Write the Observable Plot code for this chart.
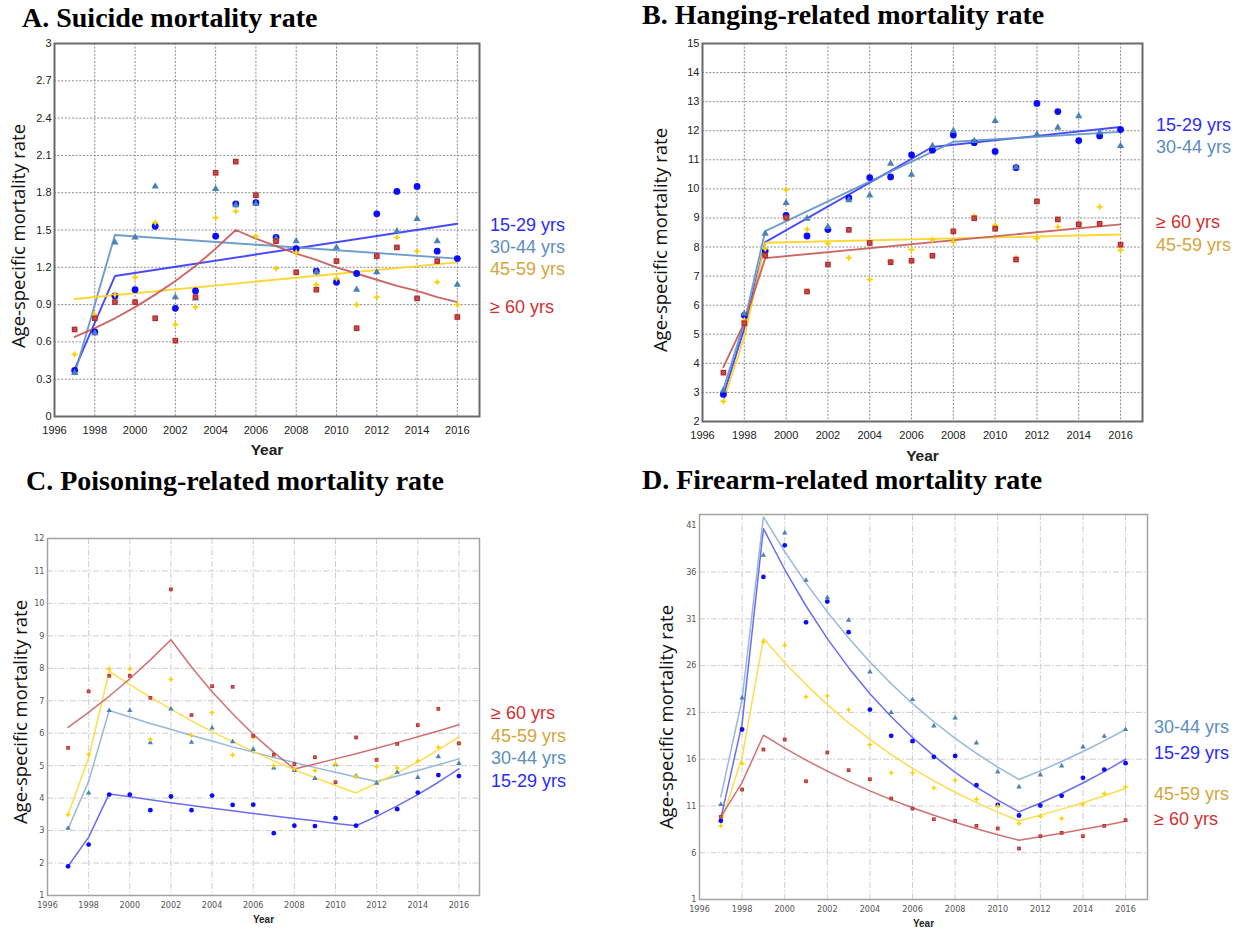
<!DOCTYPE html>
<html>
<head>
<meta charset="utf-8">
<script src="https://cdn.jsdelivr.net/npm/d3@7"></script>
<script src="https://cdn.jsdelivr.net/npm/@observablehq/plot@0.6"></script>
<style>
  body { margin: 0; background: #fff; }
  #page { position: relative; width: 1243px; height: 931px; overflow: hidden; background: #fff; }
  #page svg { position: absolute; background: transparent !important; }
  .title { position: absolute; font-family: "Liberation Serif", "Times New Roman", serif; font-weight: bold;
           font-size: 28px; line-height: 28px; white-space: nowrap; color: #000; }
  .ytitle { position: absolute; font-family: "Open Sans", sans-serif; font-size: 18.5px; line-height: 1;
            white-space: nowrap; color: #111; transform: translate(-50%, -50%) rotate(-90deg); }
  .legend { position: absolute; font-family: "Liberation Sans", Arial, sans-serif; font-size: 18px; line-height: 1;
            white-space: nowrap; transform: translateY(-50%); }
</style>
</head>
<body>
<div id="page"></div>
<script>
// ---------------------------------------------------------------------------
// Years, age groups and axis ticks
// ---------------------------------------------------------------------------
const years = [1997, 1998, 1999, 2000, 2001, 2002, 2003, 2004, 2005, 2006,
               2007, 2008, 2009, 2010, 2011, 2012, 2013, 2014, 2015, 2016];
const yearTicks = [1996, 1998, 2000, 2002, 2004, 2006, 2008, 2010, 2012, 2014, 2016];
const ageGroups = ["15-29 yrs", "30-44 yrs", "45-59 yrs", "≥ 60 yrs"];

const suicideTicks = [0, 0.3, 0.6, 0.9, 1.2, 1.5, 1.8, 2.1, 2.4, 2.7, 3];
const hangingTicks = [2, 3, 4, 5, 6, 7, 8, 9, 10, 11, 12, 13, 14, 15];
const poisoningTicks = [1, 2, 3, 4, 5, 6, 7, 8, 9, 10, 11, 12];
const firearmTicks = [1, 6, 11, 16, 21, 26, 31, 36, 41];

// ---------------------------------------------------------------------------
// A. Suicide mortality rate (observed, 1997-2016)
// ---------------------------------------------------------------------------
const suicide_15_29 = [0.37, 0.68, 0.97, 1.02, 1.53, 0.87, 1.01, 1.45, 1.71, 1.72, 1.44, 1.35, 1.17, 1.08, 1.15, 1.63, 1.81, 1.85, 1.33, 1.27];
const suicide_30_44 = [0.35, 0.67, 1.40, 1.44, 1.85, 0.96, 0.95, 1.83, 1.70, 1.71, 1.43, 1.41, 1.16, 1.36, 1.02, 1.16, 1.49, 1.59, 1.41, 1.06];
const suicide_45_59 = [0.50, 0.82, 0.98, 1.12, 1.56, 0.74, 0.88, 1.60, 1.65, 1.45, 1.19, 1.32, 1.06, 1.11, 0.90, 0.96, 1.44, 1.33, 1.08, 0.90];
const suicide_60plus = [0.70, 0.79, 0.92, 0.92, 0.79, 0.61, 0.96, 1.96, 2.05, 1.78, 1.41, 1.16, 1.02, 1.25, 0.71, 1.29, 1.36, 0.95, 1.25, 0.80];
// joinpoint trends as [year, modelled rate]
const suicideTrend_15_29 = [[1997, 0.38], [1999, 1.13], [2016, 1.55]];
const suicideTrend_30_44 = [[1997, 0.34], [1999, 1.46], [2016, 1.27]];
const suicideTrend_45_59 = [[1997, 0.945], [2016, 1.24]];
const suicideTrend_60plus = [[1997, 0.64], [1998, 0.71], [1999, 0.79], [2000, 0.88], [2001, 0.98], [2002, 1.09], [2003, 1.21],
  [2004, 1.35], [2005, 1.50], [2006, 1.43], [2007, 1.37], [2008, 1.31], [2009, 1.26], [2010, 1.20], [2011, 1.15],
  [2012, 1.10], [2013, 1.05], [2014, 1.01], [2015, 0.96], [2016, 0.92]];

// ---------------------------------------------------------------------------
// B. Hanging-related mortality rate
// ---------------------------------------------------------------------------
const hanging_15_29 = [2.93, 5.65, 7.86, 9.09, 8.38, 8.60, 9.69, 10.39, 10.41, 11.17, 11.33, 11.85, 11.59, 11.29, 10.73, 12.94, 12.66, 11.66, 11.82, 12.04];
const hanging_30_44 = [3.07, 5.71, 8.46, 9.52, 8.98, 8.69, 9.61, 9.78, 10.87, 10.49, 11.48, 11.99, 11.65, 12.34, 10.75, 11.87, 12.11, 12.50, 11.94, 11.48];
const hanging_45_59 = [2.69, 5.48, 7.94, 9.97, 8.61, 8.12, 7.63, 6.88, 7.50, 7.91, 8.25, 8.17, 9.06, 8.75, 7.63, 8.29, 8.69, 8.80, 9.38, 7.89];
const hanging_60plus = [3.68, 5.38, 7.71, 9.01, 6.47, 7.40, 8.59, 8.14, 7.48, 7.53, 7.70, 8.54, 8.99, 8.63, 7.57, 9.57, 8.95, 8.78, 8.80, 8.08];
const hangingTrend_15_29 = [[1997, 2.90], [1998, 5.2], [1999, 8.17], [2007, 11.44], [2016, 12.13]];
const hangingTrend_30_44 = [[1997, 3.12], [1998, 5.4], [1999, 8.55], [2008, 11.62], [2016, 11.96]];
const hangingTrend_45_59 = [[1997, 2.72], [1998, 4.9], [1999, 8.15], [2016, 8.43]];
const hangingTrend_60plus = [[1997, 3.87], [1998, 5.4], [1999, 7.62], [2016, 8.78]];

// ---------------------------------------------------------------------------
// C. Poisoning-related mortality rate
// ---------------------------------------------------------------------------
const poisoning_15_29 = [1.90, 2.57, 4.11, 4.11, 3.63, 4.05, 3.63, 4.08, 3.79, 3.80, 2.92, 3.15, 3.14, 3.38, 3.15, 3.57, 3.66, 4.17, 4.71, 4.68];
const poisoning_30_44 = [3.07, 4.16, 6.70, 6.70, 5.71, 6.75, 5.72, 6.16, 5.74, 5.50, 4.93, 4.85, 4.61, 5.03, 4.68, 4.46, 4.80, 4.64, 5.28, 5.07];
const poisoning_45_59 = [3.49, 5.34, 7.98, 7.98, 5.81, 7.66, 5.93, 6.64, 5.33, 5.87, 5.00, 4.90, 4.85, 5.05, 4.66, 4.97, 4.93, 5.14, 5.57, 5.69];
const poisoning_60plus = [5.55, 7.29, 7.77, 7.77, 7.09, 10.43, 6.56, 7.45, 7.43, 5.92, 5.34, 5.05, 5.26, 4.49, 5.87, 5.18, 5.67, 6.25, 6.75, 5.69];
// modelled rates for each year
const poisoningTrend_15_29 = [1.90, 2.80, 4.13, 4.04, 3.95, 3.86, 3.77, 3.69, 3.61, 3.53, 3.45, 3.37, 3.30, 3.22, 3.15, 3.44, 3.76, 4.11, 4.49, 4.90];
const poisoningTrend_30_44 = [3.05, 4.52, 6.70, 6.50, 6.30, 6.12, 5.93, 5.76, 5.58, 5.42, 5.25, 5.10, 4.94, 4.80, 4.65, 4.51, 4.68, 4.85, 5.03, 5.21];
const poisoningTrend_45_59 = [3.49, 5.25, 7.91, 7.50, 7.11, 6.74, 6.38, 6.05, 5.74, 5.44, 5.15, 4.88, 4.63, 4.39, 4.16, 4.46, 4.78, 5.12, 5.49, 5.89];
const poisoningTrend_60plus = [6.18, 6.64, 7.14, 7.68, 8.26, 8.88, 8.04, 7.28, 6.60, 5.97, 5.41, 4.90, 5.05, 5.21, 5.37, 5.54, 5.71, 5.89, 6.07, 6.26];

// ---------------------------------------------------------------------------
// D. Firearm-related mortality rate
// ---------------------------------------------------------------------------
const firearm_15_29 = [9.41, 19.17, 35.48, 38.86, 30.63, 32.84, 29.57, 21.30, 18.49, 17.92, 16.25, 16.35, 13.22, 11.12, 9.98, 11.04, 12.08, 14.00, 14.89, 15.57];
const firearm_30_44 = [11.15, 22.55, 37.79, 40.18, 35.12, 33.27, 30.85, 25.33, 20.98, 22.37, 19.56, 20.41, 17.74, 14.64, 13.04, 14.32, 15.28, 17.31, 18.45, 19.17];
const firearm_45_59 = [8.87, 15.53, 28.53, 28.18, 22.66, 22.76, 21.30, 17.56, 14.54, 14.54, 12.93, 13.75, 11.72, 10.97, 9.12, 9.90, 9.66, 11.19, 12.33, 13.04];
const firearm_60plus = [9.83, 12.75, 17.03, 18.10, 13.64, 16.71, 14.82, 13.86, 11.79, 10.72, 9.58, 9.41, 8.87, 8.59, 6.45, 7.77, 8.12, 7.77, 8.87, 9.48];
const firearmTrend_15_29 = [9.66, 19.8, 40.64, 36.27, 32.37, 28.88, 25.78, 23.00, 20.53, 18.32, 16.35, 14.59, 13.02, 11.62, 10.37, 11.31, 12.33, 13.45, 14.66, 15.99];
const firearmTrend_30_44 = [11.97, 22.4, 41.89, 38.19, 34.82, 31.74, 28.94, 26.39, 24.06, 21.93, 20.00, 18.23, 16.62, 15.15, 13.82, 14.75, 15.75, 16.82, 17.95, 19.17];
const firearmTrend_45_59 = [9.12, 16.2, 28.89, 26.31, 23.97, 21.83, 19.88, 18.11, 16.49, 15.02, 13.68, 12.46, 11.35, 10.34, 9.41, 10.02, 10.66, 11.35, 12.08, 12.86];
const firearmTrend_60plus = [9.83, 13.5, 18.56, 17.18, 15.90, 14.72, 13.62, 12.61, 11.67, 10.80, 10.00, 9.26, 8.57, 7.93, 7.34, 7.71, 8.09, 8.50, 8.92, 9.37];

// ---------------------------------------------------------------------------
// Helpers
// ---------------------------------------------------------------------------
const byYear = values => years.map((year, i) => ({year, rate: values[i]}));
const fromPairs = pairs => pairs.map(([year, rate]) => ({year, rate}));
const toRows = t => Array.isArray(t[0]) ? fromPairs(t) : byYear(t);

// four-pointed star used for the 45-59 group
const sparkle = {
  draw(ctx, size) {
    const r = Math.sqrt(size) * 0.8, w = r * 0.3;
    ctx.moveTo(0, -r); ctx.lineTo(w, -w); ctx.lineTo(r, 0); ctx.lineTo(w, w);
    ctx.lineTo(0, r); ctx.lineTo(-w, w); ctx.lineTo(-r, 0); ctx.lineTo(-w, -w); ctx.closePath();
  }
};

// per-group styling (same order as ageGroups)
const groupStyle = [
  {symbol: "circle",   fill: "#0b0bff", text: "#2b2bfb", lineHeavy: "#3535ff", lineLight: "#5c5cf2"},
  {symbol: "triangle", fill: "#4a82b6", text: "#5b8dbf", lineHeavy: "#5f93c6", lineLight: "#8ab1d6"},
  {symbol: sparkle,    fill: "#ffd000", text: "#d6a53a", lineHeavy: "#ffd21c", lineLight: "#ffd83a"},
  {symbol: "square",   fill: "#b52a2a", text: "#d42f2f", lineHeavy: "#c65656", lineLight: "#cb6063"}
];
// marker drawing order: circles, triangles, stars, squares
const drawOrder = [0, 1, 2, 3];

const themes = {
  heavy: {grid: "#8c8c8c", gridDash: "2,1.6", frame: "#6a6a6a", frameWidth: 2, lineWidth: 1.9,
          tickFont: "'Liberation Sans', Arial, sans-serif", tickSize: 11, tickColor: "#222",
          yearSize: 15.5, r: [3.4, 2.7, 2.7, 3.2], xPad: 10, yPad: 3},
  light: {grid: "#cdcdcd", gridDash: "6,2,1.5,2", frame: "#a2a2a2", frameWidth: 1.5, lineWidth: 1.5,
          tickFont: "'Liberation Sans Narrow', 'DejaVu Sans Condensed', sans-serif", tickSize: 9, tickColor: "#555",
          yearSize: 10, r: [2.4, 2.0, 2.2, 2.1], xPad: 6, yPad: 3}
};

const panels = [
  {title: "A. Suicide mortality rate", theme: "heavy",
   observed: [suicide_15_29, suicide_30_44, suicide_45_59, suicide_60plus],
   trends: [suicideTrend_15_29, suicideTrend_30_44, suicideTrend_45_59, suicideTrend_60plus],
   yDomain: [0, 3], yTicks: suicideTicks,
   box: {left: 0, top: 30, width: 620, height: 440}, margin: {top: 13, right: 141, bottom: 54, left: 54},
   xMax: 2017.1, titlePos: {left: 22, baseline: 27}, yTitle: {x: 18, y: 236}, yearDy: 38,
   legendX: 490, legendY: [225, 247, 269, 307]},
  {title: "B. Hanging-related mortality rate", theme: "heavy",
   observed: [hanging_15_29, hanging_30_44, hanging_45_59, hanging_60plus],
   trends: [hangingTrend_15_29, hangingTrend_30_44, hangingTrend_45_59, hangingTrend_60plus],
   yDomain: [2, 15], yTicks: hangingTicks,
   box: {left: 620, top: 30, width: 623, height: 440}, margin: {top: 13, right: 101, bottom: 49, left: 82},
   xMax: 2017.05, titlePos: {left: 642, baseline: 24}, yTitle: {x: 660, y: 240}, yearDy: 39,
   legendX: 1156, legendY: [125, 147, 245, 222]},
  {title: "C. Poisoning-related mortality rate", theme: "light",
   observed: [poisoning_15_29, poisoning_30_44, poisoning_45_59, poisoning_60plus],
   trends: [poisoningTrend_15_29, poisoningTrend_30_44, poisoningTrend_45_59, poisoningTrend_60plus],
   yDomain: [1, 12], yTicks: poisoningTicks,
   box: {left: 0, top: 500, width: 620, height: 431}, margin: {top: 38, right: 141, bottom: 36, left: 47},
   xMax: 2017, titlePos: {left: 26, baseline: 490}, yTitle: {x: 20, y: 712}, yearDy: 27,
   legendX: 491, legendY: [781, 758, 736, 713]},
  {title: "D. Firearm-related mortality rate", theme: "light",
   observed: [firearm_15_29, firearm_30_44, firearm_45_59, firearm_60plus],
   trends: [firearmTrend_15_29, firearmTrend_30_44, firearmTrend_45_59, firearmTrend_60plus],
   yDomain: [1, 42.15], yTicks: firearmTicks,
   box: {left: 620, top: 500, width: 623, height: 431}, margin: {top: 14, right: 96, bottom: 32, left: 79},
   xMax: 2017.03, titlePos: {left: 642, baseline: 489}, yTitle: {x: 666, y: 717}, yearDy: 27,
   legendX: 1154, legendY: [753, 727, 794, 819]}
];

const page = document.getElementById("page");

function drawPanel(p) {
  const th = themes[p.theme];
  const marks = [
    Plot.ruleX(yearTicks.slice(1), {stroke: th.grid, strokeDasharray: th.gridDash, strokeWidth: 1}),
    Plot.ruleY(p.yTicks.slice(1, -1), {stroke: th.grid, strokeDasharray: th.gridDash, strokeWidth: 1})
  ];
  // fitted joinpoint trends
  p.trends.forEach((t, g) => {
    marks.push(Plot.line(toRows(t), {
      x: "year", y: "rate",
      stroke: p.theme === "heavy" ? groupStyle[g].lineHeavy : groupStyle[g].lineLight,
      strokeWidth: th.lineWidth, strokeOpacity: 0.9
    }));
  });
  // observed rates
  drawOrder.forEach(g => {
    const rows = byYear(p.observed[g]);
    marks.push(Plot.dot(rows, {x: "year", y: "rate", symbol: groupStyle[g].symbol,
                               fill: groupStyle[g].fill, stroke: "none", r: th.r[g]}));
    if (g === 3) {
      marks.push(Plot.dot(rows, {x: "year", y: "rate", symbol: "times", stroke: "#dc7878",
                                 strokeWidth: 0.7, r: th.r[g] * 0.55}));
    }
  });
  marks.push(Plot.frame({stroke: th.frame, strokeWidth: th.frameWidth}));
  marks.push(Plot.text(["Year"], {text: d => d, frameAnchor: "bottom", dy: p.yearDy,
                                  fontWeight: "bold", fontSize: th.yearSize, fill: "#222",
                                  fontFamily: "'Liberation Sans', Arial, sans-serif"}));

  const svg = Plot.plot({
    width: p.box.width, height: p.box.height,
    marginTop: p.margin.top, marginRight: p.margin.right,
    marginBottom: p.margin.bottom, marginLeft: p.margin.left,
    style: {fontFamily: th.tickFont, fontSize: th.tickSize + "px", color: th.tickColor,
            background: "transparent", overflow: "visible"},
    x: {domain: [1996, p.xMax], ticks: yearTicks, tickSize: 0, tickPadding: th.xPad,
        tickFormat: d => String(d), label: null},
    y: {domain: p.yDomain, ticks: p.yTicks, tickSize: 0, tickPadding: th.yPad,
        tickFormat: d => String(d), label: null},
    marks
  });
  svg.style.left = p.box.left + "px";
  svg.style.top = p.box.top + "px";
  page.appendChild(svg);
}

function drawLabels(p) {
  const t = document.createElement("div");
  t.className = "title";
  t.textContent = p.title;
  t.style.left = p.titlePos.left + "px";
  t.style.top = (p.titlePos.baseline - 23.5) + "px";
  page.appendChild(t);

  const yt = document.createElement("div");
  yt.className = "ytitle";
  yt.textContent = "Age-specific mortality rate";
  yt.style.left = p.yTitle.x + "px";
  yt.style.top = p.yTitle.y + "px";
  page.appendChild(yt);

  ageGroups.forEach((name, g) => {
    const d = document.createElement("div");
    d.className = "legend";
    d.textContent = name;
    d.style.left = p.legendX + "px";
    d.style.top = p.legendY[g] + "px";
    d.style.color = groupStyle[g].text;
    page.appendChild(d);
  });
}

panels.forEach(drawPanel);
panels.forEach(drawLabels);
</script>
</body>
</html>
